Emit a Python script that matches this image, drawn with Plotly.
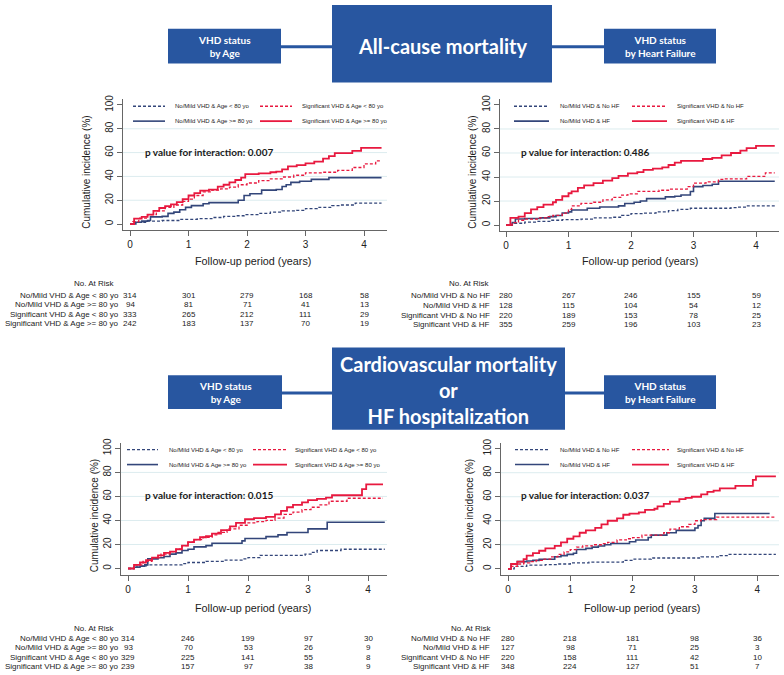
import plotly.graph_objects as go

W, H = 784, 675

# ---------------- data ----------------
# Panel A: All-cause mortality, VHD status by age
A_NM_LT80_T = [0, 0.08, 0.3, 0.55, 0.85, 1.15, 1.4, 1.6, 1.8, 1.95, 2.2, 2.4, 2.6, 2.85, 3.0, 3.2, 3.45, 3.6, 3.85, 4.3]
A_NM_LT80_V = [0, 1.5, 2.5, 3, 4, 4.5, 5.5, 6.5, 7, 8, 9, 10, 11, 11.5, 13, 14, 15.5, 16, 17.5, 17.5]
A_NM_GE80_T = [0, 0.1, 0.2, 0.3, 0.35, 0.55, 0.65, 0.75, 0.85, 0.95, 1.05, 1.25, 1.35, 1.85, 1.95, 2.05, 2.25, 2.5, 2.6, 2.67, 2.75, 2.9, 3.1, 3.4, 4.3]
A_NM_GE80_V = [0, 1.5, 2.5, 3, 6, 6.5, 9, 10, 12, 14, 15.5, 17, 18, 20, 24, 25.5, 28.5, 29, 31.5, 33, 35, 36, 37.5, 39, 39]
A_SIG_LT80_T = [0, 0.05, 0.15, 0.3, 0.45, 0.6, 0.75, 0.9, 1.0, 1.1, 1.25, 1.4, 1.55, 1.7, 1.85, 2.0, 2.2, 2.4, 2.6, 2.8, 3.0, 3.3, 3.55, 3.8, 4.0, 4.2, 4.3]
A_SIG_LT80_V = [0, 2, 5, 8, 11, 14, 16, 19, 21, 24, 27, 28.5, 29.5, 31, 33, 34.5, 36.5, 38, 39.5, 41, 43, 43.5, 45, 47.5, 50.5, 53, 53]
A_SIG_GE80_T = [0, 0.07, 0.2, 0.3, 0.4, 0.5, 0.6, 0.7, 0.8, 0.9, 1.0, 1.1, 1.2, 1.35, 1.5, 1.6, 1.7, 1.8, 1.9, 1.97, 2.2, 2.4, 2.5, 2.6, 2.7, 2.85, 3.0, 3.15, 3.3, 3.4, 3.5, 3.8, 3.95, 4.3]
A_SIG_GE80_V = [0, 4.5, 6, 8, 11, 13.5, 15, 16.5, 18.5, 21, 24, 26, 28, 29, 31.5, 33, 35, 37, 39, 42, 42.5, 43.5, 44, 46, 48.5, 49.5, 51, 52.5, 55, 57, 59.5, 61.5, 64, 64]

# Panel B: All-cause mortality, VHD status by heart failure
B_NM_NOHF_T = [0, 0.1, 0.3, 0.5, 0.7, 0.9, 1.2, 1.4, 1.7, 1.85, 2.0, 2.2, 2.4, 2.6, 2.75, 2.95, 3.6, 3.7, 3.85, 4.3]
B_NM_NOHF_V = [0, 1.5, 2.5, 3, 4, 4.5, 5, 6, 6.5, 8, 9.5, 10, 11, 12, 13, 14, 14.5, 15, 16, 16]
B_NM_HF_T = [0, 0.1, 0.15, 0.3, 0.55, 0.7, 0.8, 0.9, 1.0, 1.05, 1.3, 1.5, 1.8, 1.9, 2.05, 2.15, 2.25, 2.55, 2.7, 2.8, 2.95, 3.0, 3.15, 3.3, 3.4, 4.3]
B_NM_HF_V = [0, 2, 5, 5.5, 6, 7, 8, 10, 11, 12.5, 14, 15, 16, 18, 19, 20, 22, 23.5, 24, 25, 28, 32, 33, 34, 36.5, 36.5]
B_SIG_NOHF_T = [0, 0.1, 0.2, 0.3, 0.5, 0.65, 0.75, 0.9, 1.0, 1.05, 1.2, 1.4, 1.55, 1.7, 1.85, 1.95, 2.1, 2.45, 2.6, 2.9, 3.0, 3.2, 3.4, 3.5, 3.85, 4.15, 4.3]
B_SIG_NOHF_V = [0, 2, 4, 5, 6, 7, 8, 10, 13, 16, 18, 19, 21, 23, 25, 26, 28, 29, 30, 32, 35, 36, 38, 38.5, 40.5, 43.5, 43.5]
B_SIG_HF_T = [0, 0.07, 0.2, 0.3, 0.4, 0.5, 0.6, 0.75, 0.8, 0.9, 1.0, 1.05, 1.15, 1.25, 1.4, 1.55, 1.7, 1.8, 1.95, 2.1, 2.2, 2.35, 2.5, 2.6, 2.7, 2.8, 3.15, 3.3, 3.45, 3.6, 3.75, 3.85, 4.0, 4.3]
B_SIG_HF_V = [0, 6, 7, 10, 13, 15, 17, 19, 21, 24, 26.5, 28, 31, 33, 35, 37, 39, 41, 43, 44, 46, 47, 48, 50, 52, 53.5, 55, 56, 58, 60, 62, 64, 66, 66]

# Panel C: CV mortality or HF hospitalization, VHD status by age
C_NM_LT80_T = [0, 0.1, 0.3, 0.9, 1.0, 1.3, 1.6, 1.9, 2.0, 2.2, 2.95, 3.05, 3.15, 3.55, 4.28]
C_NM_LT80_V = [0, 2, 3, 4, 5, 6, 7, 8, 9, 11, 12, 13.5, 15, 16, 16]
C_NM_GE80_T = [0, 0.1, 0.2, 0.28, 0.33, 0.5, 0.6, 0.7, 0.8, 0.9, 1.0, 1.1, 1.3, 1.4, 1.9, 1.95, 2.3, 2.5, 2.65, 3.0, 3.32, 4.28]
C_NM_GE80_V = [0, 1, 2, 3, 8, 9, 10, 12, 13, 15, 16, 18, 19, 21, 23, 25, 26.5, 28, 30, 33, 38.5, 38.5]
C_SIG_LT80_T = [0, 0.1, 0.25, 0.4, 0.55, 0.7, 0.8, 0.9, 1.0, 1.1, 1.25, 1.4, 1.5, 1.65, 1.85, 2.0, 2.15, 2.3, 2.45, 2.6, 2.75, 2.9, 3.05, 3.2, 3.35, 3.65, 4.25]
C_SIG_LT80_V = [0, 3, 6, 9, 12, 14, 16, 19, 22, 24, 26, 28, 30, 33, 36, 38, 39, 40, 42, 45, 47, 49, 51, 53, 56, 58.5, 58.5]
C_SIG_GE80_T = [0, 0.1, 0.2, 0.3, 0.4, 0.5, 0.6, 0.7, 0.8, 0.9, 1.0, 1.1, 1.2, 1.3, 1.4, 1.55, 1.7, 1.8, 1.95, 2.1, 2.3, 2.45, 2.55, 2.65, 2.75, 2.9, 3.0, 3.15, 3.3, 3.4, 3.9, 3.97, 4.25]
C_SIG_GE80_V = [0, 3, 5, 7, 9, 11, 13, 14, 16, 19, 22, 24, 26, 27, 29, 32, 35, 38, 41, 42, 43, 45, 48, 51, 53, 55, 57, 58, 59, 61, 66, 70, 70]

# Panel D: CV mortality or HF hospitalization, VHD status by heart failure
D_NM_NOHF_T = [0, 0.1, 0.3, 0.6, 0.8, 1.0, 1.3, 1.85, 2.0, 2.3, 3.1, 3.4, 3.55, 4.3]
D_NM_NOHF_V = [0, 2, 3, 3.5, 4, 5, 5.5, 7, 8, 9, 10, 11, 12, 12]
D_NM_HF_T = [0, 0.05, 0.15, 0.3, 0.4, 0.5, 0.75, 0.85, 0.95, 1.05, 1.1, 1.25, 1.35, 1.45, 1.55, 1.65, 1.95, 2.05, 2.25, 2.3, 2.55, 2.7, 3.0, 3.05, 3.1, 3.15, 3.32, 4.2]
D_NM_HF_V = [0, 4, 6, 6.5, 7, 8, 10, 11, 12, 13, 16, 17, 18, 19, 20, 21, 22.5, 24, 26, 28, 30, 32, 34, 36, 40, 42, 46, 46]
D_SIG_NOHF_T = [0, 0.05, 0.15, 0.25, 0.35, 0.45, 0.55, 0.7, 0.8, 0.9, 1.0, 1.1, 1.2, 1.35, 1.5, 1.6, 1.75, 1.9, 2.0, 2.15, 2.5, 2.6, 2.75, 2.9, 3.0, 3.1, 3.35, 4.3]
D_SIG_NOHF_V = [0, 2, 4, 5, 6, 7, 8, 10, 12, 14, 16, 18, 19, 20, 21, 22, 24, 25, 26, 28, 30, 33, 35, 37, 40, 41, 43, 43]
D_SIG_HF_T = [0, 0.05, 0.15, 0.25, 0.3, 0.4, 0.5, 0.6, 0.75, 0.85, 0.95, 1.05, 1.15, 1.25, 1.4, 1.5, 1.6, 1.75, 1.85, 1.95, 2.1, 2.2, 2.35, 2.4, 2.5, 2.6, 2.75, 2.85, 2.95, 3.1, 3.2, 3.3, 3.4, 3.65, 3.93, 3.98, 4.3]
D_SIG_HF_V = [0, 4, 6, 8, 11, 13, 15, 17, 19, 22, 25, 27, 30, 32, 34, 37, 40, 42, 45, 46, 47, 49, 50, 52, 54, 56, 58, 59, 60, 62, 64, 65, 67, 69, 74, 77, 77]

# Legend / row labels
AGE_LABELS = ["No/Mild VHD & Age < 80 yo", "No/Mild VHD & Age >= 80 yo",
              "Significant VHD & Age < 80 yo", "Significant VHD & Age >= 80 yo"]
HF_LABELS = ["No/Mild VHD & No HF", "No/Mild VHD & HF",
             "Significant VHD & No HF", "Significant VHD & HF"]

# Number at risk (rows follow label order; columns = years 0..4)
RISK_YEARS = [0, 1, 2, 3, 4]
A_RISK = [[314, 301, 279, 168, 58], [94, 81, 71, 41, 13], [333, 265, 212, 111, 29], [242, 183, 137, 70, 19]]
B_RISK = [[280, 267, 246, 155, 59], [128, 115, 104, 54, 12], [220, 189, 153, 78, 25], [355, 259, 196, 103, 23]]
C_RISK = [[314, 246, 199, 97, 30], [93, 70, 53, 26, 9], [329, 225, 141, 55, 8], [239, 157, 97, 38, 9]]
D_RISK = [[280, 218, 181, 98, 36], [127, 98, 71, 25, 3], [220, 158, 111, 42, 10], [348, 224, 127, 51, 7]]

P_VALUES = ["0.007", "0.486", "0.015", "0.037"]
X_TICKS = [0, 1, 2, 3, 4]
Y_TICKS = [0, 20, 40, 60, 80, 100]
GRID_VALUES = [20, 40, 60, 80]

# ---------------- styles ----------------
NAVY = "#33467a"
RED = "#e8193f"
BOX = "#2856a0"
AXIS = "#666666"
TXT = "#222222"
DASH = "3px,2px"
SANS = "Liberation Sans, Arial, sans-serif"
HEAD = "Lato, sans-serif"


def px(x):
    return x / W


def py(y):
    return 1 - y / H


# panel geometry in pixels
GEOM = [
    dict(left=123, right=387, top=95, bottom=226.7, x0=130, sx=58.5, y0=220.7, sy=1.2,
         leg_rows=(102, 117), leg_cols=((133, 165, 173), (260, 292, 300)),
         p_xy=(208.5, 148), xt=(253, 258), yt=(87, 169),
         tab_rows=(292.5, 302.2, 311.7, 321), tab_head=(117, 281), tab_lab=121),
    dict(left=500, right=779, top=95, bottom=228, x0=506, sx=62.5, y0=221.7, sy=1.21,
         leg_rows=(102, 117), leg_cols=((514, 549, 558), (632, 667, 675)),
         p_xy=(584.5, 148), xt=(640, 258), yt=(473, 169),
         tab_rows=(293, 302.7, 312.4, 322), tab_head=(492, 281), tab_lab=492),
    dict(left=121, right=387, top=441, bottom=574.3, x0=128, sx=60, y0=567.7, sy=1.21,
         leg_rows=(448, 463), leg_cols=((127, 158, 167), (253, 287, 293)),
         p_xy=(209, 494), xt=(253, 608), yt=(94, 515),
         tab_rows=(638, 647.5, 657, 666.5), tab_head=(117, 628), tab_lab=121),
    dict(left=501, right=779, top=441, bottom=574.3, x0=508, sx=62.3, y0=568, sy=1.21,
         leg_rows=(448, 463), leg_cols=((515, 549, 558), (632, 669, 675)),
         p_xy=(584.5, 494), xt=(642, 608), yt=(469, 515),
         tab_rows=(638, 647.5, 657, 666.5), tab_head=(494, 628), tab_lab=492),
]

PANELS = [
    dict(series=[(A_NM_LT80_T, A_NM_LT80_V), (A_NM_GE80_T, A_NM_GE80_V),
                 (A_SIG_LT80_T, A_SIG_LT80_V), (A_SIG_GE80_T, A_SIG_GE80_V)],
         labels=AGE_LABELS, risk=A_RISK),
    dict(series=[(B_NM_NOHF_T, B_NM_NOHF_V), (B_NM_HF_T, B_NM_HF_V),
                 (B_SIG_NOHF_T, B_SIG_NOHF_V), (B_SIG_HF_T, B_SIG_HF_V)],
         labels=HF_LABELS, risk=B_RISK),
    dict(series=[(C_NM_LT80_T, C_NM_LT80_V), (C_NM_GE80_T, C_NM_GE80_V),
                 (C_SIG_LT80_T, C_SIG_LT80_V), (C_SIG_GE80_T, C_SIG_GE80_V)],
         labels=AGE_LABELS, risk=C_RISK),
    dict(series=[(D_NM_NOHF_T, D_NM_NOHF_V), (D_NM_HF_T, D_NM_HF_V),
                 (D_SIG_NOHF_T, D_SIG_NOHF_V), (D_SIG_HF_T, D_SIG_HF_V)],
         labels=HF_LABELS, risk=D_RISK),
]

# style per series index: (color, dash, width)
SERIES_STYLE = [(NAVY, DASH, 1.3), (NAVY, "solid", 1.6), (RED, DASH, 1.3), (RED, "solid", 1.8)]
# legend placement: series index -> (row, col)
LEGEND_POS = {0: (0, 0), 2: (0, 1), 1: (1, 0), 3: (1, 1)}

fig = go.Figure()
shapes = []
annotations = []
layout = {}


def note(text, x, y, size, family=SANS, color=TXT, xanchor="center", xref="paper", angle=0):
    annotations.append(dict(text=text, x=x, y=y, xref=xref, yref="paper", showarrow=False,
                            xanchor=xanchor, yanchor="middle", textangle=angle,
                            font=dict(family=family, size=size, color=color)))


for i, (p, g) in enumerate(zip(PANELS, GEOM), start=1):
    sfx = "" if i == 1 else str(i)
    xa, ya = "x" + sfx, "y" + sfx
    for k, ((t, v), lab) in enumerate(zip(p["series"], p["labels"])):
        col, dash, wdt = SERIES_STYLE[k]
        fig.add_trace(go.Scatter(x=t, y=v, mode="lines", name=lab,
                                 line=dict(shape="hv", color=col, dash=dash, width=wdt),
                                 xaxis=xa, yaxis=ya, showlegend=False, hoverinfo="skip"))
    xr = [(g["left"] - g["x0"]) / g["sx"], (g["right"] - g["x0"]) / g["sx"]]
    yr = [(g["y0"] - g["bottom"]) / g["sy"], (g["y0"] - g["top"]) / g["sy"]]
    common = dict(showline=True, linecolor=AXIS, linewidth=1, ticks="outside", ticklen=5,
                  tickcolor=AXIS, tickwidth=1, showgrid=False, zeroline=False,
                  tickfont=dict(family=SANS, size=10, color=TXT), fixedrange=True)
    layout["xaxis" + sfx] = dict(domain=[px(g["left"]), px(g["right"])], range=xr,
                                 anchor=ya, tickvals=X_TICKS, **common)
    layout["yaxis" + sfx] = dict(domain=[py(g["bottom"]), py(g["top"])], range=yr,
                                 anchor=xa, tickvals=Y_TICKS, tickangle=-90, **common)
    # gridlines
    for gv in GRID_VALUES:
        shapes.append(dict(type="line", xref=xa + " domain", yref=ya, x0=0, x1=1, y0=gv, y1=gv,
                           line=dict(color="#dcecef", width=1), layer="below"))
    # legend
    for k, lab in enumerate(p["labels"]):
        r, c = LEGEND_POS[k]
        col, dash, wdt = SERIES_STYLE[k]
        ly = g["leg_rows"][r]
        l0, l1, tx = g["leg_cols"][c]
        shapes.append(dict(type="line", xref="paper", yref="paper", x0=px(l0), x1=px(l1),
                           y0=py(ly), y1=py(ly), line=dict(color=col, width=wdt, dash=dash)))
        note(lab, px(tx), py(ly), 6, xanchor="left")
    # p value
    note("<b>p value for interaction: %s</b>" % P_VALUES[i - 1],
         px(g["p_xy"][0]), py(g["p_xy"][1]), 10, family=HEAD, color="#1a1a1a")
    # axis titles
    note("Follow-up period (years)", px(g["xt"][0]), py(g["xt"][1]), 10.8)
    note("Cumulative incidence (%)", px(g["yt"][0]), py(g["yt"][1]), 10, angle=-90)
    # number at risk table
    note("No. At Risk", px(g["tab_head"][0]), py(g["tab_head"][1]), 8, xanchor="right")
    for r, (lab, row) in enumerate(zip(p["labels"], p["risk"])):
        ry = py(g["tab_rows"][r])
        note(lab, px(g["tab_lab"]), ry, 8, xanchor="right")
        for yr_, n in zip(RISK_YEARS, row):
            note(str(n), yr_, ry, 8, xref=xa)


# ---------------- header boxes ----------------
def box(x0, y0, x1, y1):
    shapes.append(dict(type="rect", xref="paper", yref="paper", x0=px(x0), x1=px(x1),
                       y0=py(y1), y1=py(y0), fillcolor=BOX, line=dict(width=0), layer="above"))


def connector(x0, x1, y):
    shapes.append(dict(type="line", xref="paper", yref="paper", x0=px(x0), x1=px(x1),
                       y0=py(y), y1=py(y), line=dict(color=BOX, width=3)))


def box_text(text, cx, cy, size):
    note(text, px(cx), py(cy), size, family=HEAD, color="white")


# Header 1
connector(281, 332, 42)
connector(552, 604, 42)
box(332, 0, 552, 78)
box(168, 24, 281, 59)
box(604, 24, 716, 59)
box_text("<b>All-cause mortality</b>", 442, 41, 20)
box_text("<b>VHD status</b><br><b>by Age</b>", 224.5, 42, 10)
box_text("<b>VHD status</b><br><b>by Heart Failure</b>", 660, 42, 10)

# Header 2
connector(282, 332, 391)
connector(565, 604, 391)
box(332, 345, 565, 428)
box(168, 373, 282, 407)
box(604, 373, 716, 407)
box_text("<b>Cardiovascular mortality</b><br><b>or</b><br><b>HF hospitalization</b>", 448.5, 388, 20)
box_text("<b>VHD status</b><br><b>by Age</b>", 225, 390, 10)
box_text("<b>VHD status</b><br><b>by Heart Failure</b>", 660, 390, 10)

fig.update_layout(width=W, height=H, autosize=False, margin=dict(l=0, r=0, t=0, b=0),
                  paper_bgcolor="white", plot_bgcolor="white",
                  shapes=shapes, annotations=annotations, **layout)

fig.write_html("out.html", config={"displayModeBar": False, "staticPlot": True},
               post_script="document.body.style.margin='0';document.body.style.overflow='hidden';")
